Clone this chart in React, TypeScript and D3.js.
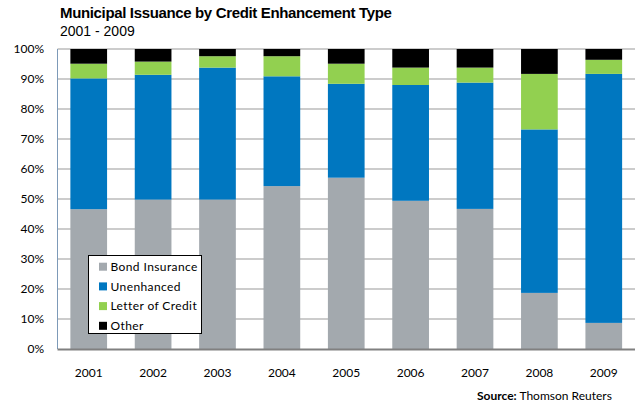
import React from "react";
import * as d3 from "d3";

const years = ["2001", "2002", "2003", "2004", "2005", "2006", "2007", "2008", "2009"];
const bondInsurance = [46.6, 49.8, 49.8, 54.3, 57.1, 49.4, 46.7, 18.7, 8.7];
const unenhanced = [43.6, 41.6, 44.0, 36.6, 31.3, 38.6, 42.1, 54.5, 83.0];
const letterOfCredit = [4.9, 4.4, 3.8, 6.7, 6.7, 5.8, 5.0, 18.5, 4.7];
const other = [4.9, 4.2, 2.4, 2.4, 4.9, 6.2, 6.2, 8.3, 3.6];
const seriesNames = ["Bond Insurance", "Unenhanced", "Letter of Credit", "Other"];
const seriesColors = ["#A3A9AE", "#0077C0", "#92D050", "#000000"];
const yTicks = [0, 10, 20, 30, 40, 50, 60, 70, 80, 90, 100];

export default function App() {
  const W = 644, H = 404;
  const left = 57.5, right = 635, top = 49, bottom = 349;
  const x = d3.scaleBand<string>().domain(years).range([left, right]).paddingInner(0.43).paddingOuter(0.2);
  const y = d3.scaleLinear().domain([0, 100]).range([bottom, top]);

  const rows = years.map((yr, i) => ({
    year: yr,
    s0: bondInsurance[i],
    s1: unenhanced[i],
    s2: letterOfCredit[i],
    s3: other[i],
  }));
  const stack = d3.stack<any>().keys(["s0", "s1", "s2", "s3"]);
  const layers = stack(rows);

  const font = "Lato, 'Open Sans', sans-serif";

  return (
    <svg width={W} height={H} style={{ position: "absolute", left: 0, top: 0, background: "#fff" }}>
      <text x={60} y={18.3} fontFamily="'Liberation Sans', Arial, sans-serif" fontWeight="bold" fontSize={15} letterSpacing={-0.35} fill="#000">
        Municipal Issuance by Credit Enhancement Type
      </text>
      <text x={60} y={36} fontFamily="'Liberation Sans', Arial, sans-serif" fontSize={14} fill="#000">
        2001 - 2009
      </text>
      {/* gridlines */}
      {yTicks.filter((t) => t > 0).map((t) => (
        <line key={t} x1={left} x2={right} y1={y(t)} y2={y(t)} stroke="#9a9a9a" strokeWidth={1.2} />
      ))}
      {/* bars */}
      {layers.map((layer, si) => (
        <g key={si} fill={seriesColors[si]}>
          {layer.map((d: any, i: number) => (
            <rect key={i} x={x(years[i])} width={x.bandwidth()} y={y(Math.min(d[1], 100))} height={y(d[0]) - y(Math.min(d[1], 100))} />
          ))}
        </g>
      ))}
      {/* axes */}
      <line x1={left} x2={left} y1={top} y2={bottom} stroke="#7d9ab8" strokeWidth={1} />
      <line x1={left} x2={right} y1={bottom + 0.5} y2={bottom + 0.5} stroke="#808080" strokeWidth={2} />
      {yTicks.map((t) => (
        <text key={t} x={44} y={y(t)} dy="0.35em" textAnchor="end" fontFamily={font} fontSize={12} fill="#000">
          {t}%
        </text>
      ))}
      {years.map((yr) => (
        <text key={yr} x={(x(yr) as number) + x.bandwidth() / 2} y={377} textAnchor="middle" fontFamily={font} fontSize={12} fill="#000">
          {yr}
        </text>
      ))}
      {/* legend */}
      <rect x={88.5} y={255.5} width={113} height={78} fill="#fff" stroke="#000" strokeWidth={1} />
      {seriesNames.map((n, i) => (
        <g key={n}>
          <rect x={99} y={262.7 + i * 19.7} width={8} height={8} fill={seriesColors[i]} />
          <text x={110.5} y={266.7 + i * 19.7} dy="0.35em" fontFamily={font} fontSize={12} letterSpacing={0.4} fill="#000">
            {n}
          </text>
        </g>
      ))}
      <text x={477} y={399.5} textAnchor="start" fontFamily={font} fontSize={12} fill="#000">
        <tspan fontWeight="bold">Source:</tspan> Thomson Reuters
      </text>
    </svg>
  );
}
